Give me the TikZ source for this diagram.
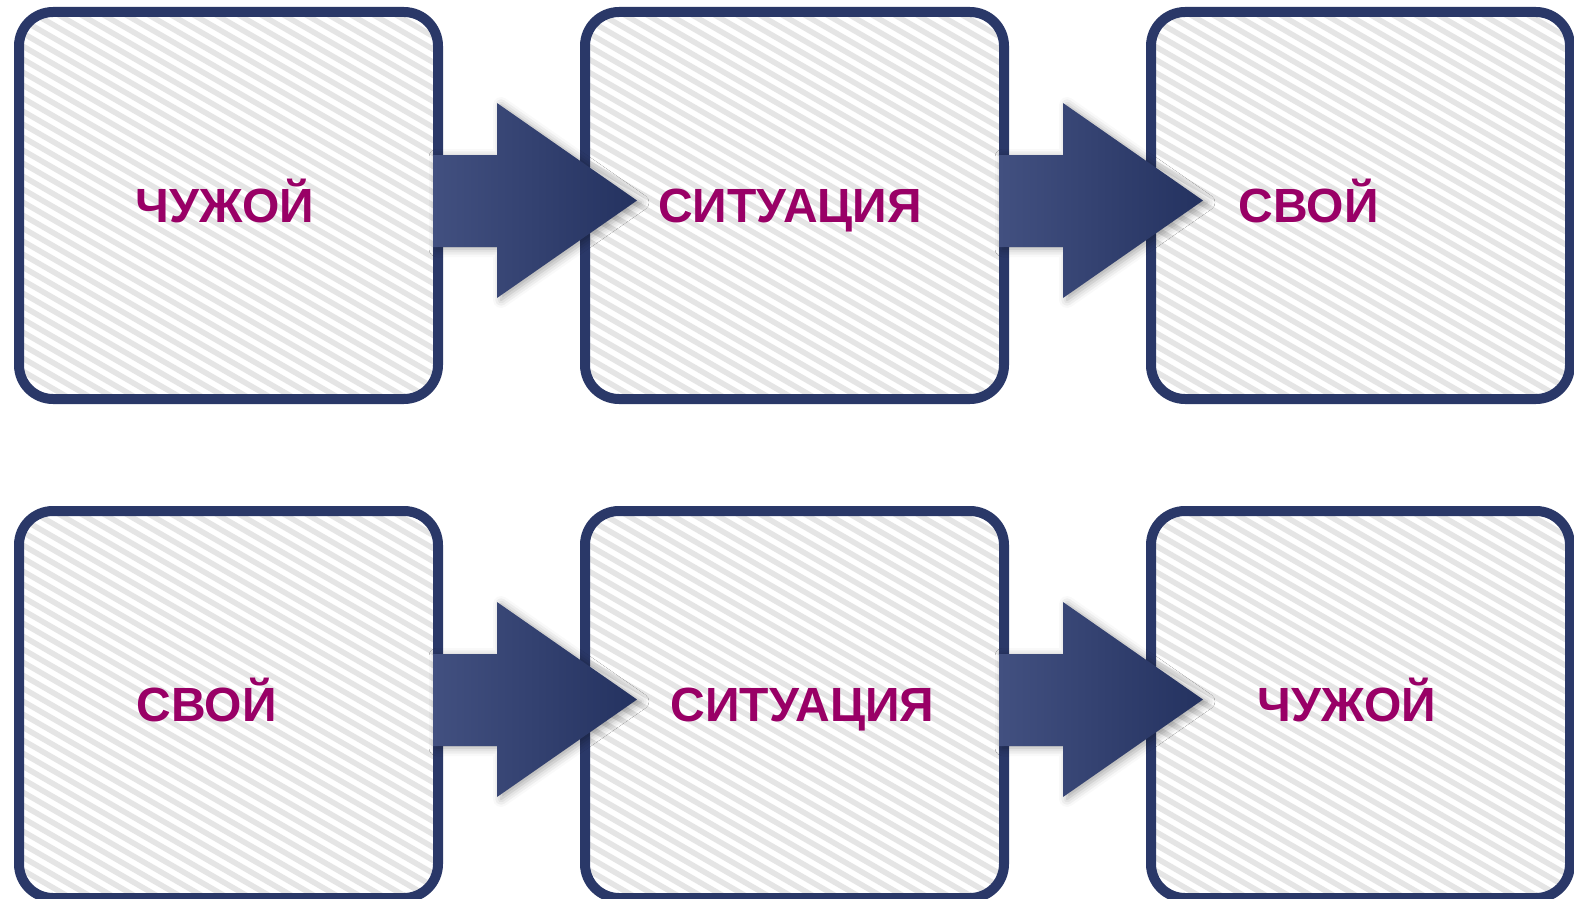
\documentclass[tikz,border=0pt]{standalone}
\usepackage{fontspec}
\setmainfont{Liberation Sans}
\usepackage{xcolor}
\usepackage{tikz}
\usetikzlibrary{shapes,arrows,positioning,shadows,shadows.blur}
\definecolor{framenavy}{RGB}{42,56,104}
\definecolor{arrowlight}{RGB}{66,80,128}
\definecolor{arrowdark}{RGB}{36,50,96}
\definecolor{stripegray}{RGB}{229,229,229}
\definecolor{wordplum}{RGB}{153,0,102}
\tikzstyle{box} = [rectangle, draw=framenavy, line width=10pt, rounded corners=34pt, fill=white, minimum width=419pt, minimum height=387pt, outer sep=0pt, inner sep=0pt, drop shadow={opacity=0.12, shadow xshift=3pt, shadow yshift=-4pt}, path picture={\foreach \k in {-32,...,20} \draw[stripegray, line width=5.5pt] (path picture bounding box.north west) ++(\k*22.5pt,20pt) -- ++(720pt,-416pt);}]
\tikzstyle{word} = [font=\bfseries\fontsize{48}{56}\selectfont, text=wordplum, text height=34pt, text depth=0pt, inner sep=0pt]
\tikzstyle{line} = [left color=arrowlight, right color=arrowdark, blur shadow={shadow xshift=4pt, shadow yshift=-2pt, shadow blur radius=8pt, shadow opacity=35}]

\begin{document}
\begin{tikzpicture}[x=1pt, y=-1pt, node distance = 566pt]
\useasboundingbox (0,0) rectangle (1574,899);
\node [box] (own1) at (228.5,205.5) {};
\node [box, right of=own1] (sit1) {};
\node [box, right of=sit1] (alien1) {};
\node [box, below of=own1, node distance=499pt] (own2) {};
\node [box, right of=own2] (sit2) {};
\node [box, right of=sit2] (alien2) {};

\node [word, xshift=-3.5pt] (wa1) at (own1) {ЧУЖОЙ};
\node [word, xshift=-4.5pt] (wb1) at (sit1) {СИТУАЦИЯ};
\node [word, xshift=-52pt] (wc1) at (alien1) {СВОЙ};
\node [word, xshift=-22pt] (wa2) at (own2) {СВОЙ};
\node [word, xshift=8pt] (wb2) at (sit2) {СИТУАЦИЯ};
\node [word, xshift=-13.5pt] (wc2) at (alien2) {ЧУЖОЙ};

\path [line] (own1.east) ++(-5,-50.5) -- ++(64,0) -- ++(0,-52) -- ++(140,97.5) -- ++(-140,97.5) -- ++(0,-51) -- ++(-64,0) -- cycle;
\path [line] (sit1.east) ++(-5,-50.5) -- ++(64,0) -- ++(0,-52) -- ++(140,97.5) -- ++(-140,97.5) -- ++(0,-51) -- ++(-64,0) -- cycle;
\path [line] (own2.east) ++(-5,-50.5) -- ++(64,0) -- ++(0,-52) -- ++(140,97.5) -- ++(-140,97.5) -- ++(0,-51) -- ++(-64,0) -- cycle;
\path [line] (sit2.east) ++(-5,-50.5) -- ++(64,0) -- ++(0,-52) -- ++(140,97.5) -- ++(-140,97.5) -- ++(0,-51) -- ++(-64,0) -- cycle;
\end{tikzpicture}
\end{document}
